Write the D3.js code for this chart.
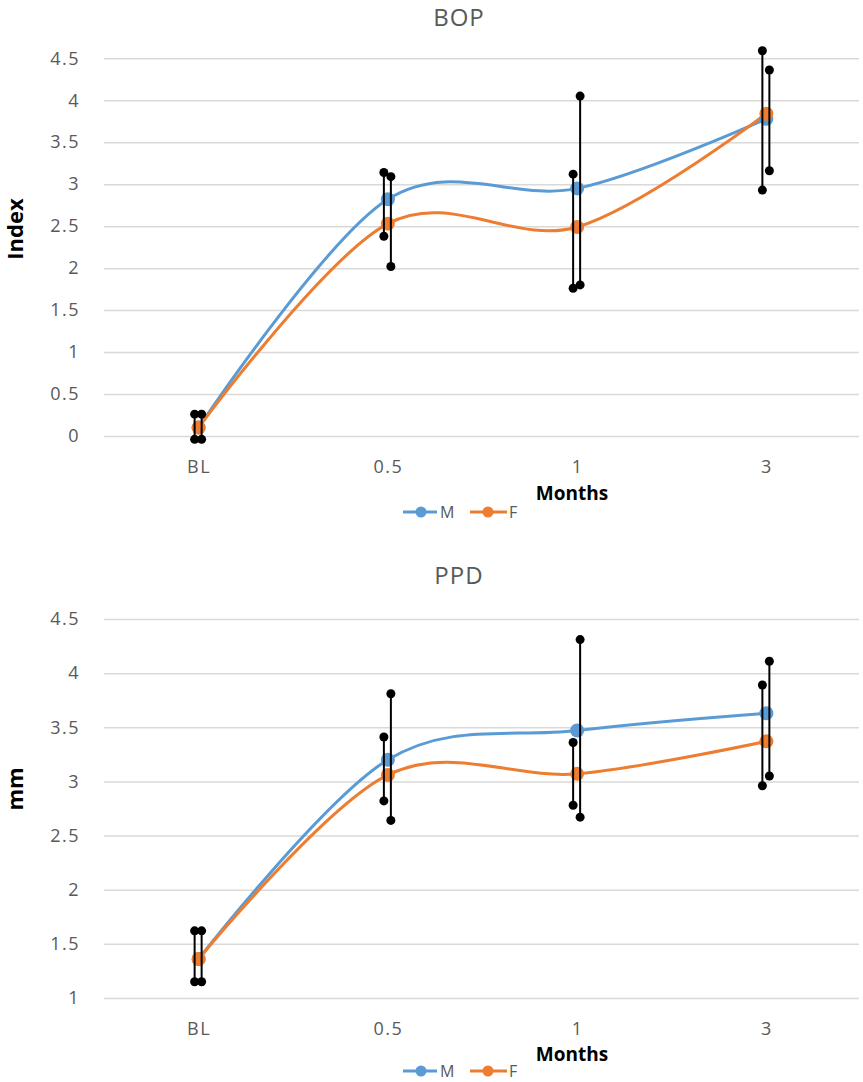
<!DOCTYPE html>
<html>
<head>
<meta charset="utf-8">
<script src="https://cdn.jsdelivr.net/npm/d3@7"></script>
<style>
  body { margin: 0; background: #fff; }
  text { font-family: "Open Sans", "Liberation Sans", sans-serif; }
</style>
</head>
<body>
<script>
const width = 863;
const height = 1082;

const categories = ["BL", "0.5", "1", "3"];
const seriesNames = ["M", "F"];
const colors = ["#5B9BD5", "#ED7D31"];

// BOP (Index)
const bopM = [0.10, 2.82, 2.95, 3.78];
const bopF = [0.10, 2.53, 2.49, 3.84];
const bopMLow = [-0.04, 2.38, 1.76, 2.93];
const bopMHigh = [0.26, 3.14, 3.12, 4.59];
const bopFLow = [-0.04, 2.02, 1.80, 3.16];
const bopFHigh = [0.26, 3.09, 4.05, 4.36];
const bopTicks = [0, 0.5, 1, 1.5, 2, 2.5, 3, 3.5, 4, 4.5];

// PPD (mm)
const ppdM = [1.36, 3.20, 3.47, 3.63];
const ppdF = [1.36, 3.06, 3.07, 3.37];
const ppdMLow = [1.15, 2.82, 2.78, 2.96];
const ppdMHigh = [1.62, 3.41, 3.36, 3.89];
const ppdFLow = [1.15, 2.64, 2.67, 3.05];
const ppdFHigh = [1.62, 3.81, 4.31, 4.11];
const ppdTicks = [1, 1.5, 2, 2.5, 3, 3.5, 4, 4.5];

const svg = d3.select("body")
  .append("svg")
  .attr("width", width)
  .attr("height", height);

const plotLeft = 104;
const plotRight = 861;

const xScale = d3.scalePoint()
  .domain(categories)
  .range([plotLeft, plotRight])
  .padding(0.5);

function drawPanel(opts) {
  const g = svg.append("g");
  const yScale = d3.scaleLinear()
    .domain(opts.domain)
    .range([opts.bottom, opts.top]);

  // gridlines + y labels
  const yAxis = d3.axisLeft(yScale)
    .tickValues(opts.ticks)
    .tickSize(-(plotRight - plotLeft - 2))
    .tickPadding(24)
    .tickFormat(d3.format("~g"));
  const ya = g.append("g")
    .attr("transform", `translate(${plotLeft}, 0)`)
    .call(yAxis);
  ya.select(".domain").remove();
  ya.selectAll("line").attr("stroke", "#d9d9d9").attr("stroke-width", 1.5);
  ya.selectAll("text")
    .attr("fill", "#595959")
    .style("font-size", "18px")
    .style("letter-spacing", "1.5px");

  // x labels
  const xAxis = d3.axisBottom(xScale).tickSize(0).tickPadding(opts.xPad);
  const xa = g.append("g")
    .attr("transform", `translate(0, ${opts.bottom})`)
    .call(xAxis);
  xa.select(".domain").remove();
  xa.selectAll("text")
    .attr("fill", "#595959")
    .style("font-size", "18px")
    .style("letter-spacing", "1.5px");

  // title
  g.append("text")
    .attr("x", 459)
    .attr("y", opts.titleY)
    .attr("text-anchor", "middle")
    .attr("fill", "#595959")
    .style("font-size", "24px")
    .style("letter-spacing", "1px")
    .text(opts.title);

  // y axis label
  g.append("text")
    .attr("transform", `translate(23, ${opts.labelY}) rotate(-90)`)
    .attr("text-anchor", "middle")
    .attr("fill", "#000")
    .style("font-size", "22px")
    .style("font-weight", "bold")
    .text(opts.yLabel);

  // x axis label
  g.append("text")
    .attr("x", 572)
    .attr("y", opts.monthsY)
    .attr("text-anchor", "middle")
    .attr("fill", "#000")
    .style("font-size", "19px")
    .style("font-weight", "bold")
    .text("Months");

  const line = d3.line()
    .x((d, i) => xScale(categories[i]))
    .y(d => yScale(d))
    .curve(d3.curveCardinal.tension(0));

  opts.series.forEach(function(s, si) {
    g.append("path")
      .datum(s)
      .attr("fill", "none")
      .attr("stroke", colors[si])
      .attr("stroke-width", 3)
      .attr("d", line);
  });

  opts.series.forEach(function(s, si) {
    g.selectAll(null)
      .data(s)
      .enter()
      .append("circle")
      .attr("cx", (d, i) => xScale(categories[i]))
      .attr("cy", d => yScale(d))
      .attr("r", 7)
      .attr("fill", colors[si]);
  });

  // error bars (M a little left, F a little right)
  const offsets = [-4, 3];
  opts.errors.forEach(function(e, si) {
    const bars = categories.map((c, i) => ({ c: c, lo: e[0][i], hi: e[1][i] }));
    const eg = g.append("g");
    eg.selectAll("line")
      .data(bars)
      .enter()
      .append("line")
      .attr("x1", d => xScale(d.c) + offsets[si])
      .attr("x2", d => xScale(d.c) + offsets[si])
      .attr("y1", d => yScale(d.lo))
      .attr("y2", d => yScale(d.hi))
      .attr("stroke", "#000")
      .attr("stroke-width", 2);
    bars.forEach(function(d) {
      [d.lo, d.hi].forEach(function(v) {
        eg.append("circle")
          .attr("cx", xScale(d.c) + offsets[si])
          .attr("cy", yScale(v))
          .attr("r", 4.5)
          .attr("fill", "#000");
      });
    });
  });

  // legend
  const legendItems = [
    { x0: 403, x1: 437, mx: 421, tx: 440 },
    { x0: 470, x1: 507, mx: 488, tx: 509 }
  ];
  legendItems.forEach(function(li, i) {
    g.append("line")
      .attr("x1", li.x0).attr("x2", li.x1)
      .attr("y1", opts.legendY).attr("y2", opts.legendY)
      .attr("stroke", colors[i])
      .attr("stroke-width", 3);
    g.append("circle")
      .attr("cx", li.mx).attr("cy", opts.legendY)
      .attr("r", 5.5)
      .attr("fill", colors[i]);
    g.append("text")
      .attr("x", li.tx)
      .attr("y", opts.legendY + 6)
      .attr("fill", "#595959")
      .style("font-size", "16px")
      .text(seriesNames[i]);
  });
}

drawPanel({
  title: "BOP",
  yLabel: "Index",
  domain: [0, 4.5],
  ticks: bopTicks,
  top: 58.3,
  bottom: 436,
  xPad: 24,
  titleY: 26,
  labelY: 229,
  monthsY: 500,
  legendY: 512,
  series: [bopM, bopF],
  errors: [[bopMLow, bopMHigh], [bopFLow, bopFHigh]]
});

drawPanel({
  title: "PPD",
  yLabel: "mm",
  domain: [1, 4.5],
  ticks: ppdTicks,
  top: 619,
  bottom: 998,
  xPad: 24,
  titleY: 584,
  labelY: 789,
  monthsY: 1061,
  legendY: 1071,
  series: [ppdM, ppdF],
  errors: [[ppdMLow, ppdMHigh], [ppdFLow, ppdFHigh]]
});
</script>
</body>
</html>
